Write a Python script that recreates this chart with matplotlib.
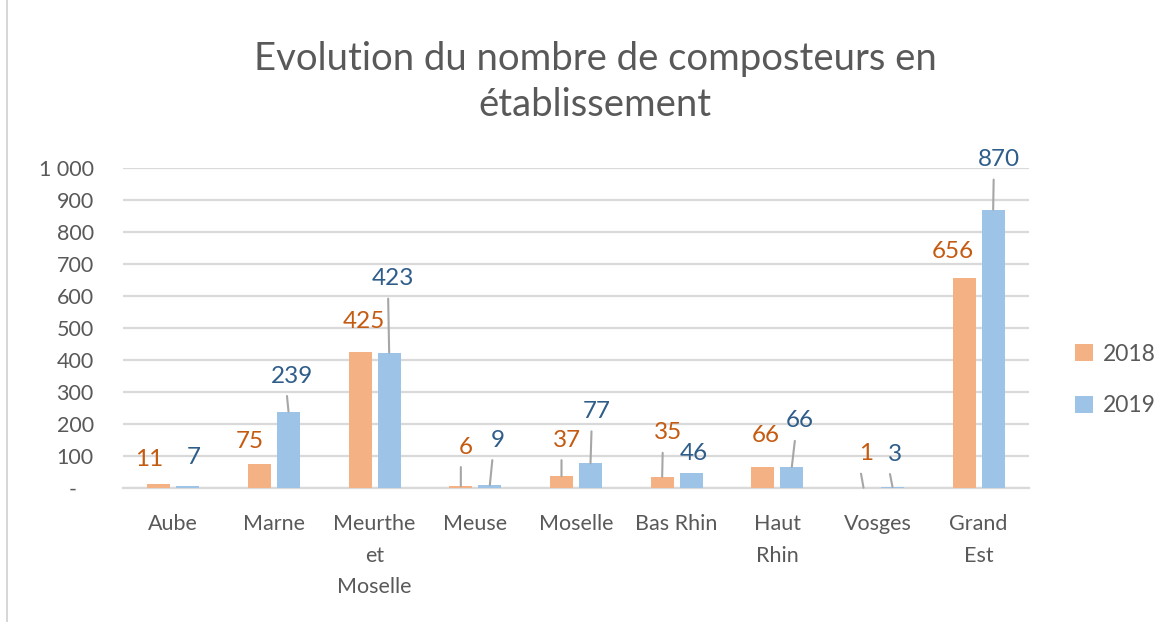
import matplotlib
matplotlib.use("Agg")
import matplotlib.pyplot as plt
from matplotlib.patches import Rectangle
import numpy as np

plt.rcParams['font.family'] = ['Lato', 'DejaVu Sans']

# ---- data ----
categories = ["Aube", "Marne", "Meurthe\net\nMoselle", "Meuse", "Moselle",
              "Bas Rhin", "Haut\nRhin", "Vosges", "Grand\nEst"]
values_2018 = [11, 75, 425, 6, 37, 35, 66, 1, 656]
values_2019 = [7, 239, 423, 9, 77, 46, 66, 3, 870]
series_names = ["2018", "2019"]
y_ticks = [0, 100, 200, 300, 400, 500, 600, 700, 800, 900, 1000]
y_tick_labels = ["-   ", "100", "200", "300", "400", "500", "600", "700", "800", "900", "1 000"]

# ---- label placement (pixel offsets from bar top; style only) ----
off_2018 = [(-9.5, 24.5), (-10, 23), (4, 30.5), (5, 39), (5, 36), (5.5, 44), (3, 31), (2.5, 34), (-11.7, 27)]
off_2019 = [(5.5, 28), (3.5, 35.5), (4, 74), (7.5, 45), (6, 52), (2.5, 20), (8, 46), (2.5, 33), (5.5, 50)]
lead_2018 = [False, False, False, True, True, True, False, True, False]
lead_2019 = [False, True, True, True, True, False, True, True, True]

c18, c19 = "#F4B183", "#9DC3E6"
t18, t19 = "#C55A11", "#2F5D8A"
gray_txt = "#595959"
grid_c = "#D9D9D9"
lead_c = "#A6A6A6"

W, H = 1175, 622
fig = plt.figure(figsize=(W / 100, H / 100), dpi=100)
fig.patch.set_facecolor("white")

# chart frame
fig.add_artist(Rectangle((7 / W, -0.01), 1.2, 1.2, transform=fig.transFigure,
                         fill=False, edgecolor="#D0D0D0", linewidth=1.2))

left, right = 123 / W, 1029 / W
bottom, top = 1 - 488 / H, 1 - 168 / H
ax = fig.add_axes([left, bottom, right - left, top - bottom])

x = np.arange(len(categories))
bw = 0.228
off = 0.144
b1 = ax.bar(x - off, values_2018, bw, color=c18, label=series_names[0], zorder=3)
b2 = ax.bar(x + off, values_2019, bw, color=c19, label=series_names[1], zorder=3)

ax.set_xlim(-0.5, len(categories) - 0.5)
ax.set_ylim(0, 1000)
ax.set_yticks(y_ticks)
ax.set_yticklabels(y_tick_labels)
ax.set_xticks(x)
ax.set_xticklabels(categories, linespacing=1.72)

for s in ["top", "right", "left"]:
    ax.spines[s].set_visible(False)
ax.spines["bottom"].set_color(grid_c)
ax.spines["bottom"].set_linewidth(1.6)
ax.yaxis.grid(True, color=grid_c, linewidth=1.6, zorder=0)
ax.set_axisbelow(True)
ax.tick_params(axis="both", length=0, labelsize=15.5, colors=gray_txt)
ax.tick_params(axis="y", pad=21)
ax.tick_params(axis="x", pad=19)

def add_labels(xs, vals, offs, leads, color):
    for xi, v, (dx, dy), ld in zip(xs, vals, offs, leads):
        ax.annotate(str(v), xy=(xi, v), xytext=(dx, dy), textcoords="offset pixels",
                    ha="center", va="center", fontsize=17.5, color=color, zorder=5)
        if ld:
            ax.annotate("", xy=(xi, v), xytext=(dx - 5, dy - 20), textcoords="offset pixels",
                        arrowprops=dict(arrowstyle="-", color=lead_c, lw=1.5,
                                        shrinkA=0, shrinkB=0), zorder=4)

add_labels(x - off, values_2018, off_2018, lead_2018, t18)
add_labels(x + off, values_2019, off_2019, lead_2019, t19)

leg = ax.legend(loc="center left", bbox_to_anchor=(1064 / W, 1 - 380 / H),
                bbox_transform=fig.transFigure, frameon=False,
                fontsize=16.5, handlelength=0.75, handleheight=0.75,
                handletextpad=0.45, labelspacing=1.35, borderpad=0)
for t in leg.get_texts():
    t.set_color(gray_txt)

fig.text(595 / W, 1 - 82 / H, "Evolution du nombre de composteurs en\nétablissement",
         ha="center", va="center", fontsize=27.5, color=gray_txt, linespacing=1.32)

fig.savefig("out.png", dpi=100, facecolor="white")
